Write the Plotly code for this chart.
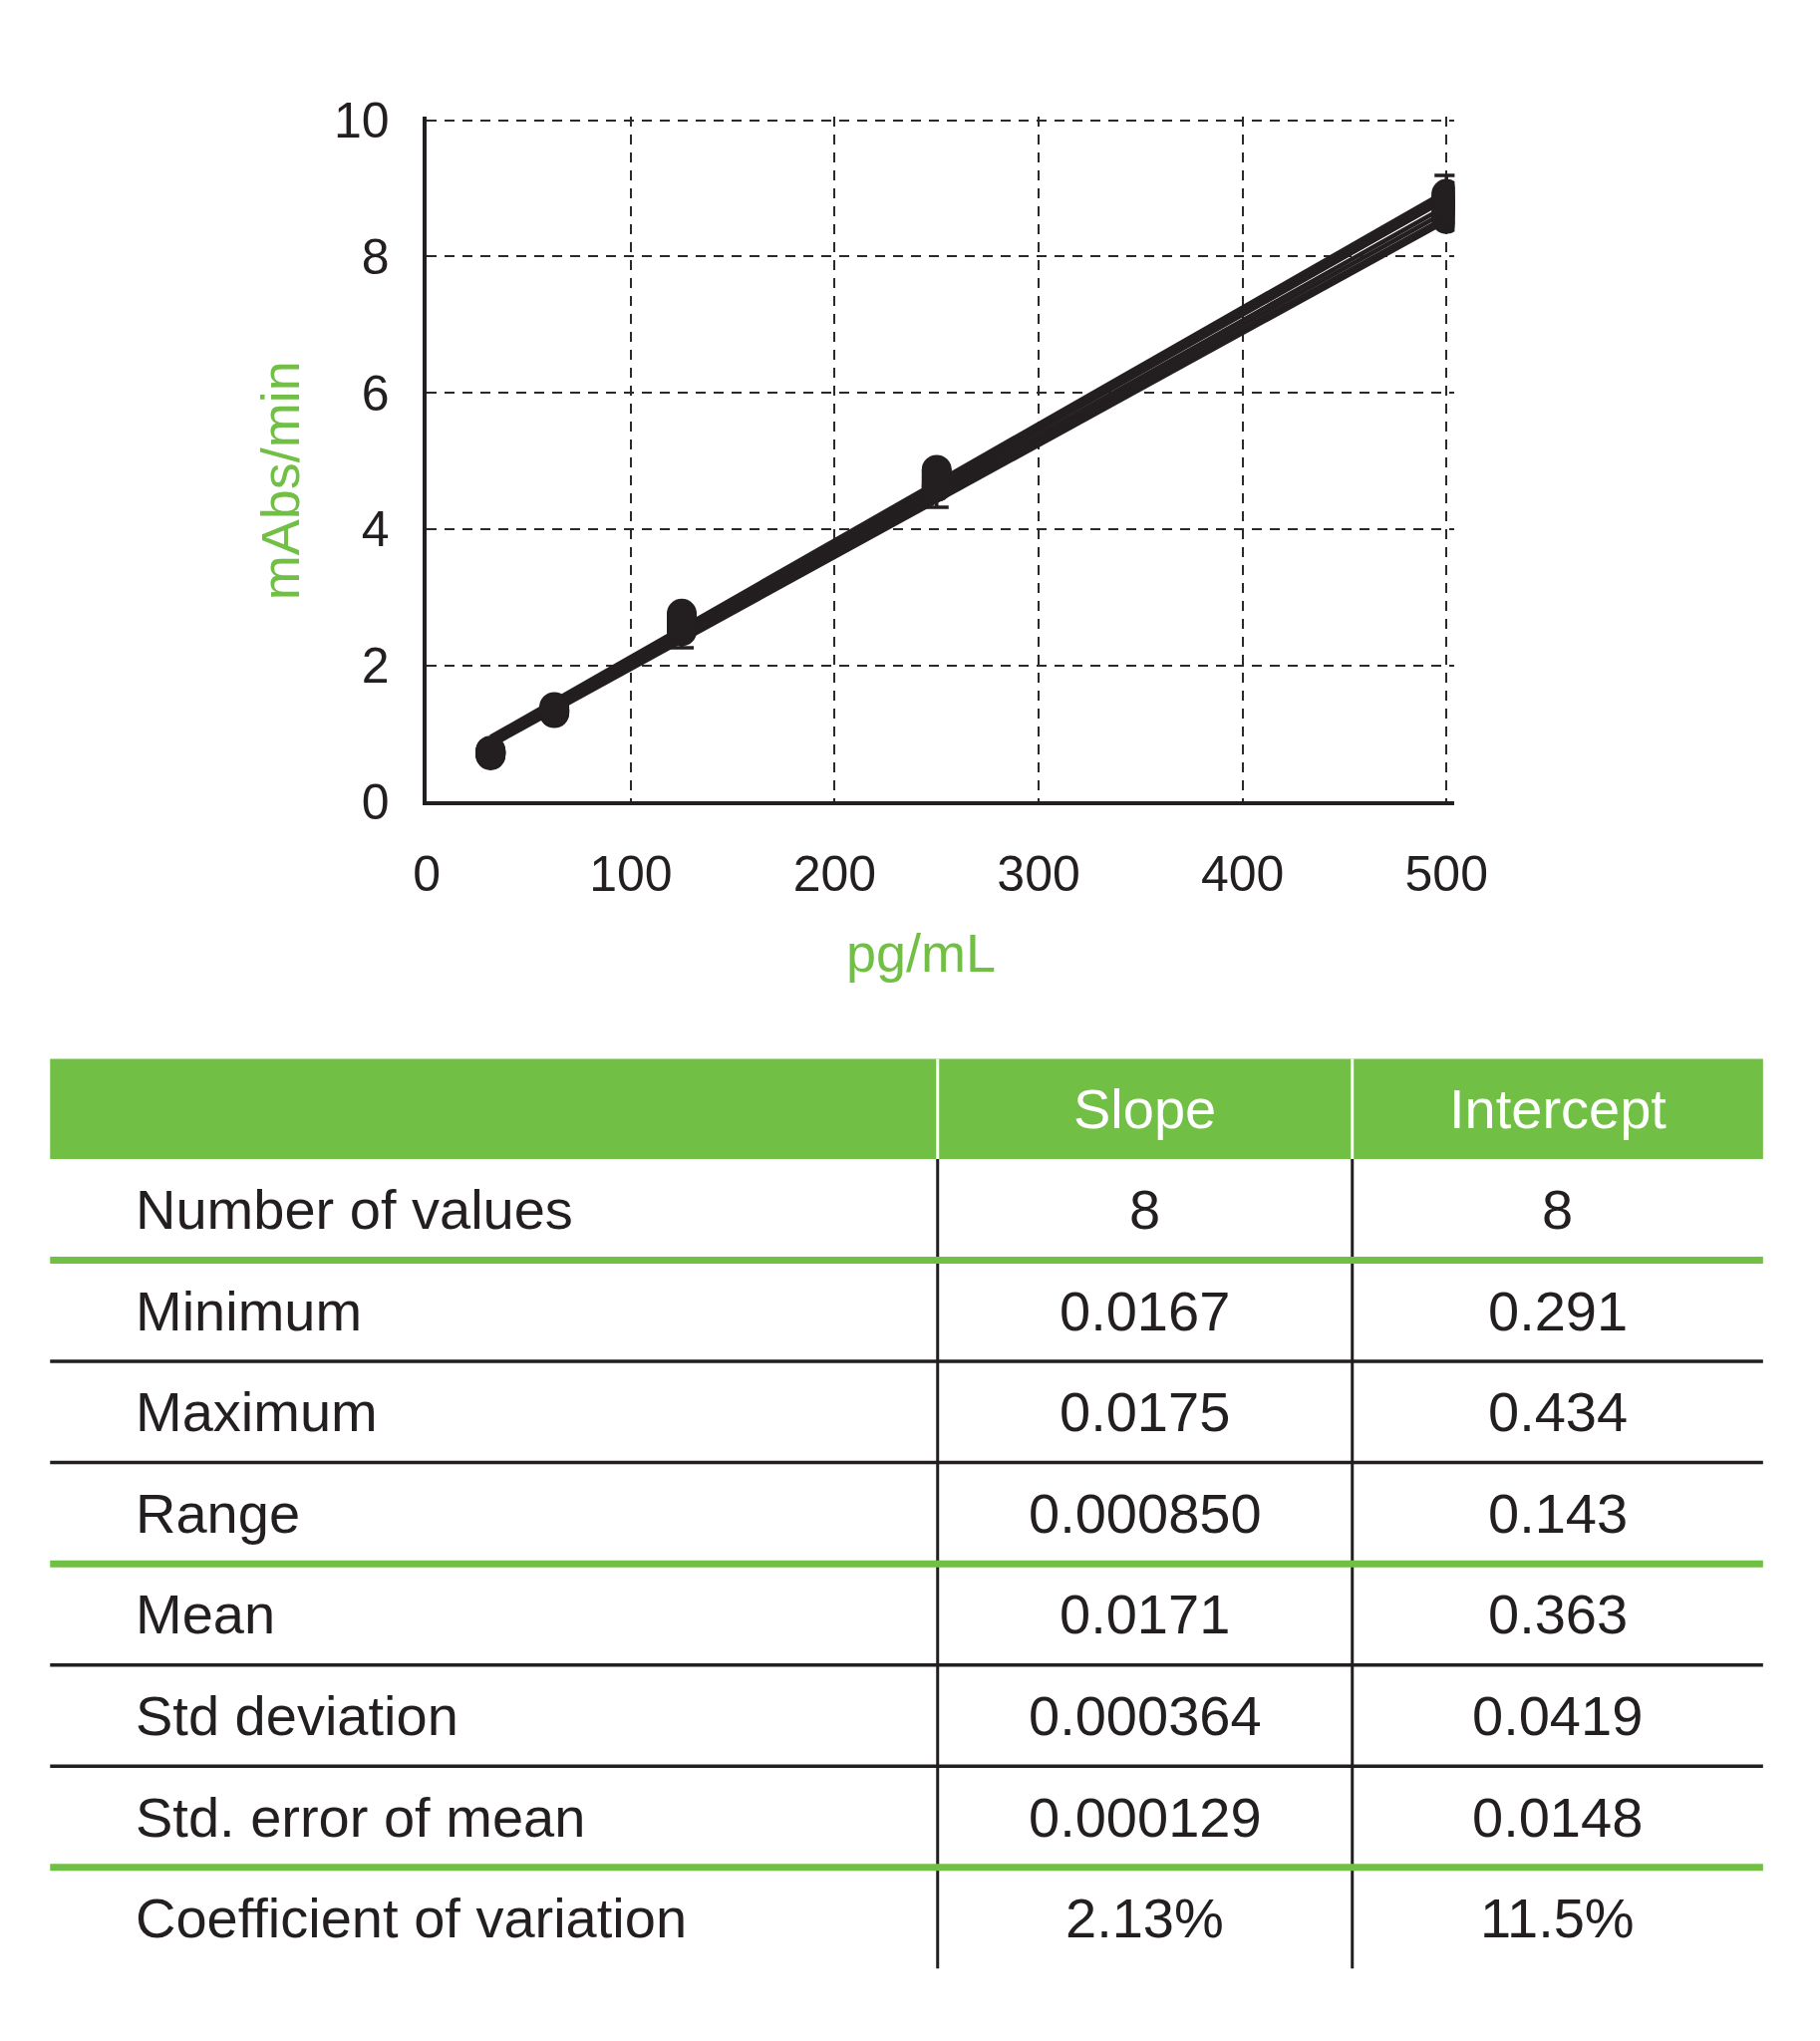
import plotly.graph_objects as go

# concentracion (pg/mL) y respuesta (mAbs/min) de las 8 curvas
conc = [31.25, 62.5, 125, 250, 500]
curva_31 = [0.68, 0.69, 0.70, 0.71, 0.72, 0.73, 0.74, 0.75]
curva_62 = [1.30, 1.31, 1.32, 1.33, 1.34, 1.35, 1.37, 1.39]
curva_125 = [2.50, 2.53, 2.56, 2.60, 2.64, 2.68, 2.72, 2.76]
curva_250 = [4.62, 4.65, 4.69, 4.72, 4.76, 4.80, 4.84, 4.87]
curva_500 = [8.55, 8.60, 8.66, 8.72, 8.78, 8.84, 8.88, 8.92]

# rectas ajustadas: valor al inicio (31.25) y al final (500)
recta_ini = [0.82, 0.85, 0.87, 0.88, 0.90, 0.91, 0.93, 0.95]
recta_fin = [8.52, 8.58, 8.66, 8.74, 8.84, 8.88, 8.92, 8.96]

# media y desviacion para las barras de error
media = [0.72, 1.34, 2.56, 4.62, 8.84]
desv = [0.05, 0.05, 0.30, 0.30, 0.35]

# tabla de resumen
filas = ["Number of values", "Minimum", "Maximum", "Range", "Mean",
         "Std deviation", "Std. error of mean", "Coefficient of variation"]
slope = ["8", "0.0167", "0.0175", "0.000850", "0.0171", "0.000364", "0.000129", "2.13%"]
intercept = ["8", "0.291", "0.434", "0.143", "0.363", "0.0419", "0.0148", "11.5%"]
encabezado = ["", "Slope", "Intercept"]

W, H = 1826, 2048
verde = "#71bf44"
negro = "#231f20"
fuente = "Liberation Sans, Arial, sans-serif"


def px(x):
    return x / W


def py(y):
    return 1 - y / H


def texto(fig, t, x, y, size, color, xanchor="center", angle=0):
    fig.add_annotation(text=t, x=px(x), y=py(y), xref="paper", yref="paper",
                       xanchor=xanchor, yanchor="middle", textangle=angle,
                       showarrow=False, font=dict(size=size, color=color))


fig = go.Figure()

for i in range(len(recta_ini)):
    fig.add_trace(go.Scatter(x=[conc[0], conc[-1]], y=[recta_ini[i], recta_fin[i]],
                             mode="lines", line=dict(color=negro, width=4.5),
                             showlegend=False))

curvas = list(zip(curva_31, curva_62, curva_125, curva_250, curva_500))
for ys in curvas:
    fig.add_trace(go.Scatter(x=conc, y=list(ys), mode="markers",
                             marker=dict(color=negro, size=30),
                             showlegend=False))

fig.add_trace(go.Scatter(
    x=conc, y=media, mode="markers",
    marker=dict(color=negro, size=30),
    error_y=dict(type="data", array=desv, color=negro, thickness=3.5, width=12),
    showlegend=False,
))

# escala vertical: 70.2 px por unidad, eje en y=793
y_max = 10.05
fig.update_layout(
    width=W, height=H,
    margin=dict(l=0, r=0, t=0, b=0),
    paper_bgcolor="white",
    plot_bgcolor="white",
    font=dict(family=fuente, color=negro),
    xaxis=dict(
        domain=[px(417), px(417 + 504 * 2.1)],
        range=[0, 504],
        tickvals=[0, 100, 200, 300, 400, 500],
        showgrid=True, gridcolor="#2a2a2a", gridwidth=1.6, griddash="10px,8px",
        zeroline=False,
        showline=True, linecolor=negro, linewidth=3.5,
        ticks="", ticklabelstandoff=26,
        tickfont=dict(size=50, color=negro),
    ),
    yaxis=dict(
        domain=[py(793), py(793 - y_max * 70.2)],
        range=[0, y_max],
        tickvals=[0, 2, 4, 6, 8, 10],
        showgrid=True, gridcolor="#2a2a2a", gridwidth=1.6, griddash="10px,8px",
        zeroline=False,
        showline=True, linecolor=negro, linewidth=3.5,
        ticks="", ticklabelstandoff=24,
        tickfont=dict(size=50, color=negro),
    ),
)

# titulos de ejes
texto(fig, "mAbs/min", 266, 462, 54, verde, angle=-90)
texto(fig, "pg/mL", 926, 949, 54, verde)

# tabla
t_izq, t_der = 29, 1793
col_div = [943, 1370]
h_top, h_bot = 1058, 1161
alto_fila = 104.25
centros = [None, (col_div[0] + col_div[1]) / 2, (col_div[1] + t_der) / 2]

fig.add_shape(type="rect", xref="paper", yref="paper",
              x0=px(t_izq), x1=px(t_der), y0=py(h_bot), y1=py(h_top),
              fillcolor=verde, line=dict(width=0), layer="above")
for xd in col_div:
    fig.add_shape(type="line", xref="paper", yref="paper",
                  x0=px(xd), x1=px(xd), y0=py(h_top), y1=py(h_bot),
                  line=dict(color="white", width=3), layer="above")
    fig.add_shape(type="line", xref="paper", yref="paper",
                  x0=px(xd), x1=px(xd), y0=py(h_bot), y1=py(h_bot + alto_fila * len(filas)),
                  line=dict(color=negro, width=3), layer="above")

for j in (1, 2):
    texto(fig, encabezado[j], centros[j], (h_top + h_bot) / 2, 56, "white")

for i, nombre in enumerate(filas):
    yc = h_bot + alto_fila * (i + 0.5)
    texto(fig, nombre, 115, yc, 56, negro, xanchor="left")
    texto(fig, slope[i], centros[1], yc, 56, negro)
    texto(fig, intercept[i], centros[2], yc, 56, negro)
    if i < len(filas) - 1:
        yl = h_bot + alto_fila * (i + 1)
        verde_sep = i in (0, 3, 6)
        fig.add_shape(type="line", xref="paper", yref="paper",
                      x0=px(t_izq), x1=px(t_der), y0=py(yl), y1=py(yl),
                      line=dict(color=verde if verde_sep else negro,
                                width=7 if verde_sep else 3.5),
                      layer="above")

fig.write_html("out.html")
